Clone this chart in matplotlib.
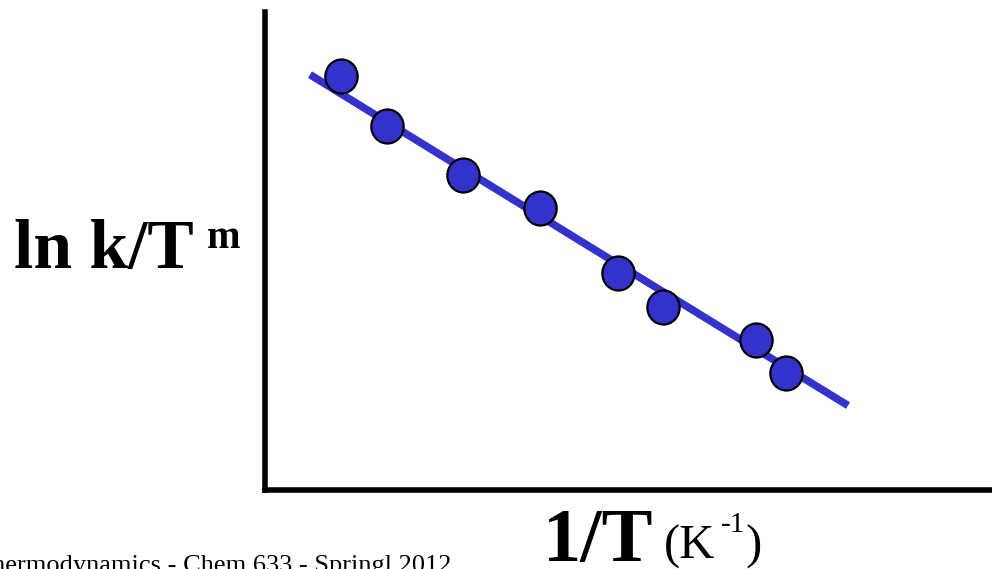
import matplotlib
matplotlib.use("Agg")
import matplotlib.pyplot as plt
from matplotlib.path import Path
from matplotlib.transforms import Affine2D
import numpy as np

plt.rcParams["font.family"] = ["Liberation Serif", "DejaVu Serif"]

# data (arbitrary units)
inv_T = [0.76, 1.22, 1.98, 2.75, 3.53, 3.98, 4.91, 5.21]
ln_k_Tm = [4.14, 3.64, 3.15, 2.82, 2.17, 1.83, 1.50, 1.17]
fit_x = [0.45, 5.83]
fit_slope = -0.615
fit_icpt = 4.43

W, H = 992, 569
fig = plt.figure(figsize=(W / 100, H / 100), dpi=100)
ax = fig.add_axes([265 / W, (H - 490) / H, (W - 265) / W, (490 - 12) / H])
ax.set_xlim(0, 7.27)
ax.set_ylim(0, 4.78)

# circles in the original are a touch taller than wide
oval = Path.unit_circle().transformed(Affine2D().scale(0.95, 1.0))

fx = np.array(fit_x)
ax.plot(fx, fit_slope * fx + fit_icpt, color="#3333cc", lw=5.5, solid_capstyle="butt", zorder=2)
ax.plot(inv_T, ln_k_Tm, ls="none", marker=oval, ms=24.5, mfc="#3333cc", mec="black", mew=1.6, zorder=3)

for s in ["top", "right"]:
    ax.spines[s].set_visible(False)
for s in ["left", "bottom"]:
    ax.spines[s].set_linewidth(4)
ax.set_xticks([])
ax.set_yticks([])

# axis labels
fig.text(14 / W, 1 - 268 / H, "ln k/T", fontsize=50, fontweight="bold", va="baseline", ha="left")
fig.text(207 / W, 1 - 248 / H, "m", fontsize=29, fontweight="bold", va="baseline", ha="left")
fig.text(543 / W, 1 - 561 / H, "1/T", fontsize=55, fontweight="bold", va="baseline", ha="left")
fig.text(664 / W, 1 - 559 / H, "(K", fontsize=35, va="baseline", ha="left")
fig.text(721 / W, 1 - 532 / H, "-1", fontsize=21, va="baseline", ha="left")
fig.text(745 / W, 1 - 559 / H, ")", fontsize=35, va="baseline", ha="left")

fig.text(451 / W, 1 - 572 / H, "Thermodynamics - Chem 633 - Springl 2012",
         fontsize=19, va="baseline", ha="right")

fig.savefig("out.png", dpi=100)
